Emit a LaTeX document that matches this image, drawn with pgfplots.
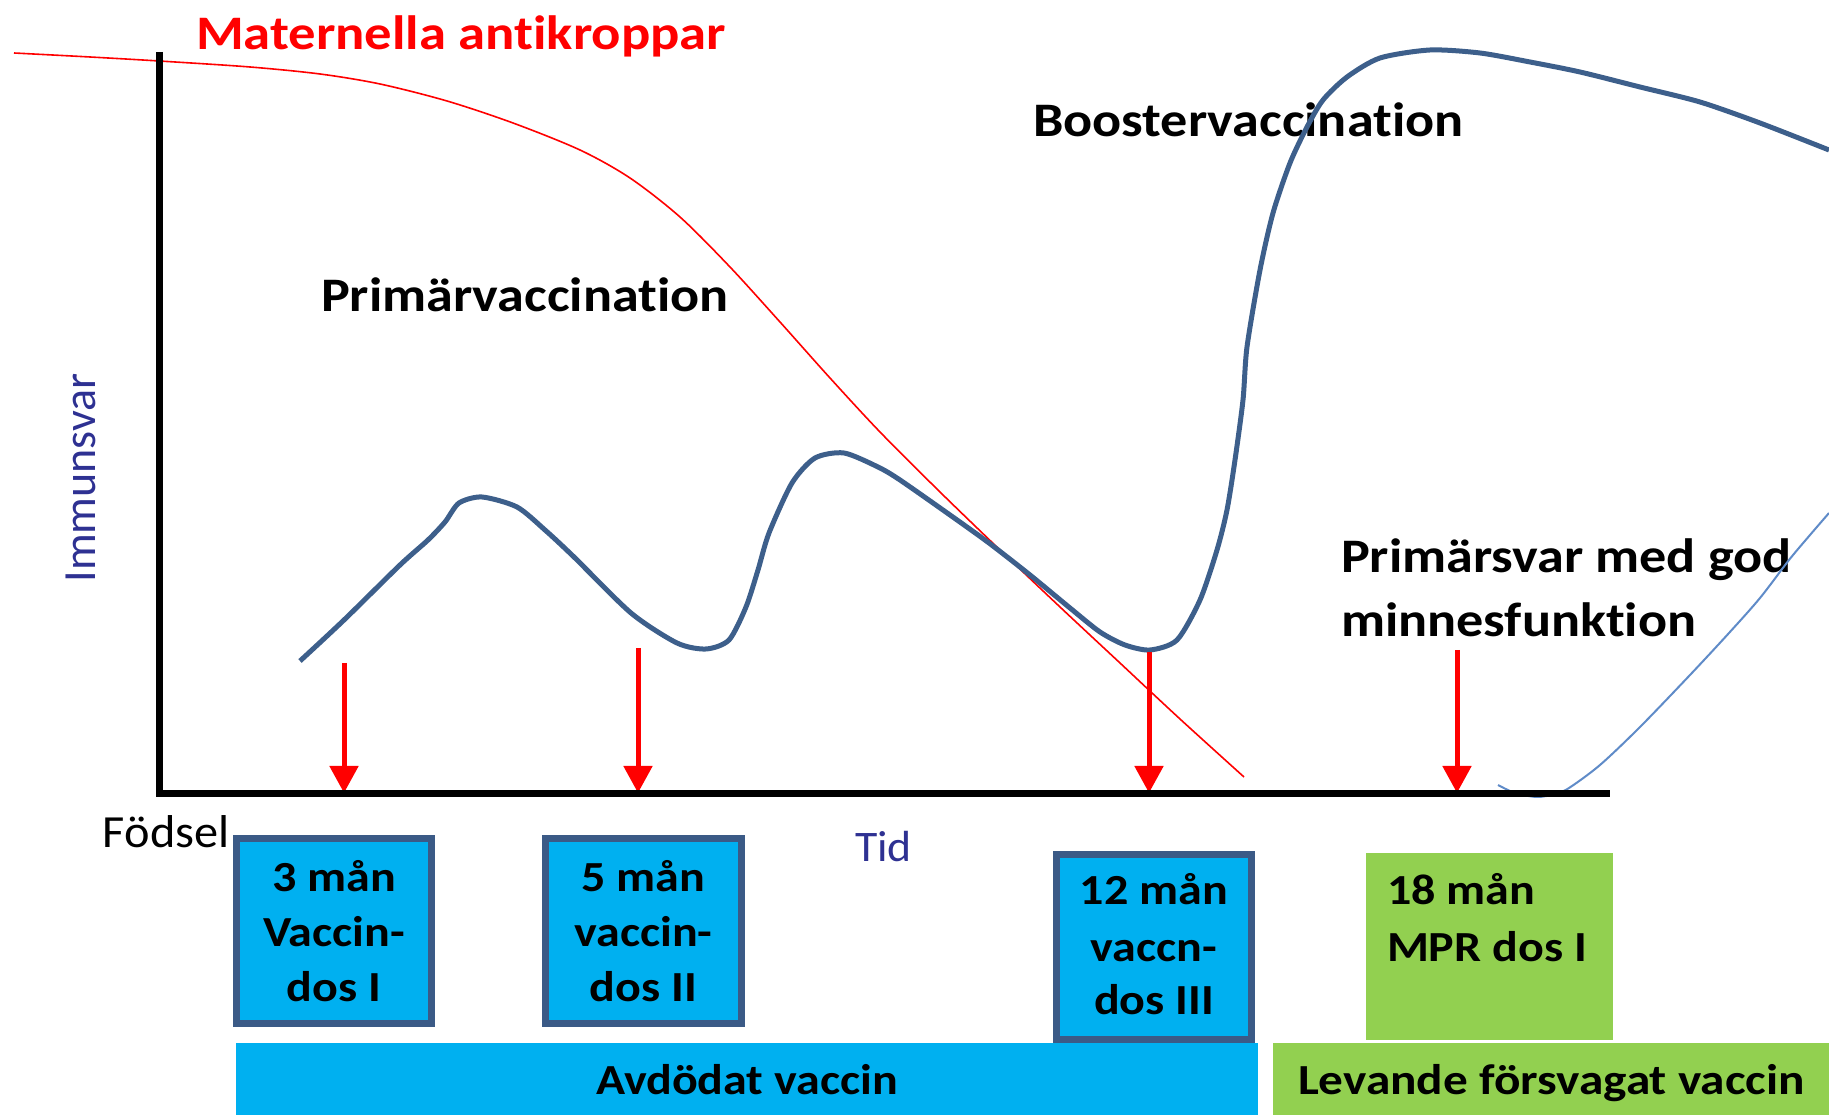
\documentclass[border=0pt]{standalone}
\usepackage{pgfplots}
\pgfplotsset{compat=1.18}
\usetikzlibrary{arrows.meta}
\usepackage{fontspec}
\setmainfont{Carlito}[Ligatures={NoCommon}, Contextuals={NoAlternate}]
\definecolor{curve}{HTML}{3D5F8B}
\definecolor{boxborder}{HTML}{3B5A86}
\definecolor{thinblue}{HTML}{5F8BC8}
\definecolor{cyanfill}{HTML}{00B0F0}
\definecolor{greenfill}{HTML}{92D050}
\definecolor{navy}{HTML}{2E3192}
\definecolor{redline}{HTML}{FF0000}
\newcommand{\sx}[2][1.125]{\scalebox{#1}[1]{#2}}
\newcommand{\bigf}{\fontsize{13.7}{16}\bfseries\selectfont}
\newcommand{\boxf}{\fontsize{12.2}{15}\bfseries\selectfont}
\tikzset{t/.style={inner sep=0pt, outer sep=0pt}}
\begin{document}
\begin{tikzpicture}
\begin{axis}[name=ax, width=182.9mm, height=111.5mm, scale only axis,
  xmin=0, xmax=1829, ymin=0, ymax=1115, y dir=reverse,
  axis lines=none, ticks=none, clip=true]

% boxes
\addplot[fill=cyanfill, draw=none] coordinates {(236,1043) (1258,1043) (1258,1115) (236,1115)} -- cycle;
\addplot[fill=greenfill, draw=none] coordinates {(1273,1043) (1829,1043) (1829,1115) (1273,1115)} -- cycle;
\addplot[fill=cyanfill, draw=boxborder, line width=0.7mm] coordinates {(236.5,838.5) (431.5,838.5) (431.5,1023.5) (236.5,1023.5)} -- cycle;
\addplot[fill=cyanfill, draw=boxborder, line width=0.7mm] coordinates {(545.5,838.5) (741.5,838.5) (741.5,1023.5) (545.5,1023.5)} -- cycle;
\addplot[fill=cyanfill, draw=boxborder, line width=0.7mm] coordinates {(1056.5,854.5) (1251.5,854.5) (1251.5,1040) (1056.5,1040)} -- cycle;
\addplot[fill=greenfill, draw=none] coordinates {(1366,853) (1613,853) (1613,1040) (1366,1040)} -- cycle;

% texts
\node[t, anchor=base west, text=redline, font=\bigf] at (axis cs:196,50) {\sx[1.135]{Maternella antikroppar}};
\node[t, anchor=base west, font=\bigf] at (axis cs:321,312) {\sx{Primärvaccination}};
\node[t, anchor=base west, font=\bigf] at (axis cs:1033,137) {\sx{Boostervaccination}};
\node[t, anchor=base west, font=\bigf] at (axis cs:1341,573) {\sx{Primärsvar med god}};
\node[t, anchor=base west, font=\bigf] at (axis cs:1341,637) {\sx{minnesfunktion}};
\node[t, anchor=base west, font=\fontsize{13.1}{15}\selectfont] at (axis cs:103,848) {\sx[1.05]{Födsel}};
\node[t, anchor=base west, text=navy, font=\fontsize{12.4}{15}\selectfont] at (axis cs:855,862) {\sx[1.05]{Tid}};
\node[t, anchor=base, rotate=90, text=navy, font=\fontsize{13.1}{15}\selectfont] at (axis cs:95,478) {Immunsvar};

\node[t, anchor=base, font=\boxf] at (axis cs:334,892) {\sx[1.12]{3 mån}};
\node[t, anchor=base, font=\boxf] at (axis cs:334,947) {\sx[1.12]{Vaccin-}};
\node[t, anchor=base, font=\boxf] at (axis cs:334,1002) {\sx[1.12]{dos I}};
\node[t, anchor=base, font=\boxf] at (axis cs:643.5,892) {\sx[1.12]{5 mån}};
\node[t, anchor=base, font=\boxf] at (axis cs:643.5,947) {\sx[1.12]{vaccin-}};
\node[t, anchor=base, font=\boxf] at (axis cs:643.5,1002) {\sx[1.12]{dos II}};
\node[t, anchor=base, font=\boxf] at (axis cs:1154,905) {\sx[1.12]{12 mån}};
\node[t, anchor=base, font=\boxf] at (axis cs:1154,962) {\sx[1.12]{vaccn-}};
\node[t, anchor=base, font=\boxf] at (axis cs:1154,1015) {\sx[1.12]{dos III}};
\node[t, anchor=base west, font=\boxf] at (axis cs:1387,905) {\sx[1.12]{18 mån}};
\node[t, anchor=base west, font=\boxf] at (axis cs:1387,962) {\sx[1.12]{MPR dos I}};
\node[t, anchor=base, font=\boxf] at (axis cs:747,1095) {\sx[1.12]{Avdödat vaccin}};
\node[t, anchor=base west, font=\boxf] at (axis cs:1298,1095) {\sx[1.15]{Levande försvagat vaccin}};

% maternal antibodies
\addplot[redline, line width=0.16mm, smooth] coordinates {
(14,53) (90,57) (159,61) (250,67) (320,74) (380,84) (447,101) (513,123)
(580,150) (630,178) (680,217) (730,267) (780,322) (830,378) (880,432)
(940,492) (1000,550) (1060,607) (1120,663) (1180,719) (1244,777)};

% main immune response
\addplot[curve, line width=0.5mm, smooth, tension=0.45] coordinates {
(300,661) (344,620) (400,565) (428,540) (445,522) (459,503) (482,497)
(517,507) (545,530) (574,557) (631,613) (677,643) (706,649) (729,640)
(746,607) (758,570) (769,533) (792,483) (815,458) (844,453) (878,467)
(900,480) (950,515) (989,543) (1030,575) (1070,608) (1100,632) (1125,645) (1150,650)
(1177,640) (1200,600) (1217,550) (1227,510) (1235,460) (1243,400)
(1247,347) (1260,270) (1273,213) (1290,163) (1307,127) (1323,100)
(1347,77) (1380,58) (1430,50) (1480,53) (1530,62) (1580,72)
(1640,87) (1700,102) (1760,123) (1829,150)};

% thin secondary response
\addplot[thinblue, line width=0.2mm, smooth] coordinates {
(1498,785) (1515,793) (1537,797) (1555,794) (1569,788) (1600,765)
(1640,727) (1690,675) (1729,633) (1760,598) (1789,560) (1810,535) (1829,513)};

% arrows
\addplot[redline, line width=0.5mm, -{Triangle[width=2.8mm,length=2.7mm]}] coordinates {(344,663) (344,793)};
\addplot[redline, line width=0.5mm, -{Triangle[width=2.8mm,length=2.7mm]}] coordinates {(638,648) (638,793)};
\addplot[redline, line width=0.5mm, -{Triangle[width=2.8mm,length=2.7mm]}] coordinates {(1149,652) (1149,793)};
\addplot[redline, line width=0.5mm, -{Triangle[width=2.8mm,length=2.7mm]}] coordinates {(1457,650) (1457,793)};

% axes
\addplot[black, line width=0.7mm, miter limit=10] coordinates {(159,52) (159,794) (1610,794)};
\end{axis}
\pgfresetboundingbox
\path (ax.south west) rectangle (ax.north east);
\end{tikzpicture}
\end{document}
